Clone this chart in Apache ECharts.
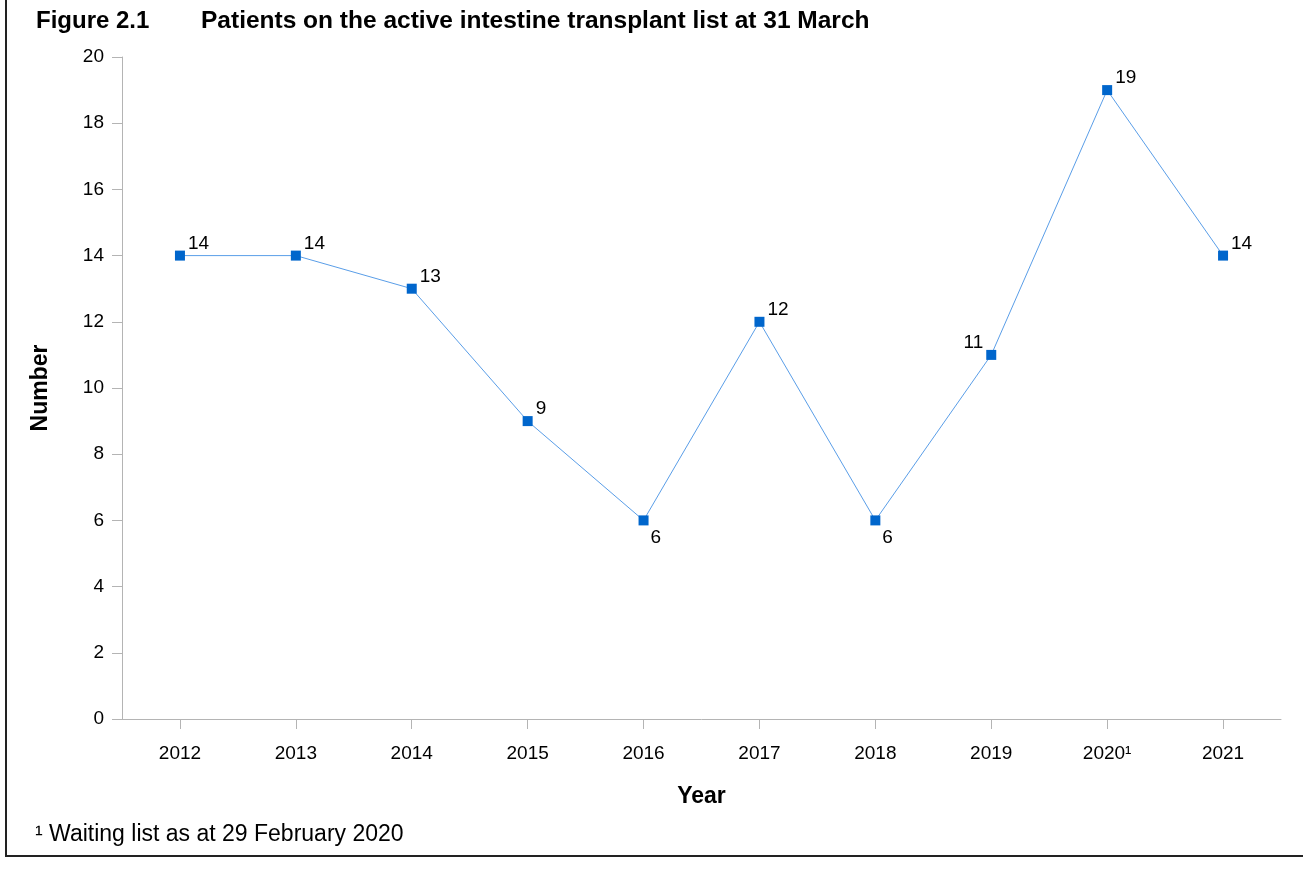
<!DOCTYPE html>
<html>
<head>
<meta charset="utf-8">
<script src="https://cdn.jsdelivr.net/npm/echarts@6/dist/echarts.min.js"></script>
<style>
html,body{margin:0;padding:0;background:#fff;}
#chart{width:1303px;height:874px;}
</style>
</head>
<body>
<div id="chart"></div>
<script>
var categories = ['2012','2013','2014','2015','2016','2017','2018','2019','2020\u00B9','2021'];
var patients = [14, 14, 13, 9, 6, 12, 6, 11, 19, 14];
var yTicks = { min: 0, max: 20, interval: 2 };

var labelRightTop = { position: 'right', offset: [-2, -12] };
var labelBelow = { position: 'right', offset: [-3, 17] };
var labelLeftTop = { position: 'left', offset: [2, -12] };
var labelPlacement = [labelRightTop, labelRightTop, labelRightTop, labelRightTop, labelBelow,
                      labelRightTop, labelBelow, labelLeftTop, labelRightTop, labelRightTop];

var font = 'Liberation Sans, Arial, sans-serif';
var chart = echarts.init(document.getElementById('chart'));
chart.setOption({
  backgroundColor: '#fff',
  animation: false,
  title: [
    { text: 'Figure 2.1', left: 31, top: 4,
      textStyle: { fontFamily: font, fontSize: 24, fontWeight: 'bold', color: '#000' } },
    { text: 'Patients on the active intestine transplant list at 31 March', left: 196, top: 4,
      textStyle: { fontFamily: font, fontSize: 24.5, fontWeight: 'bold', color: '#000' } }
  ],
  graphic: [
    { type: 'line', shape: { x1: 6, y1: 0, x2: 6, y2: 856 }, style: { stroke: '#222', lineWidth: 2 } },
    { type: 'line', shape: { x1: 5, y1: 856, x2: 1303, y2: 856 }, style: { stroke: '#222', lineWidth: 2 } },
    { type: 'text', left: 35, top: 823,
      style: { text: '\u00B9 Waiting list as at 29 February 2020', font: '23px ' + font, fill: '#000' } }
  ],
  grid: { left: 122, right: 22, top: 57, bottom: 155 },
  xAxis: {
    type: 'category',
    data: categories,
    boundaryGap: true,
    name: 'Year',
    nameLocation: 'middle',
    nameGap: 66,
    nameTextStyle: { fontFamily: font, fontSize: 23, fontWeight: 'bold', color: '#000' },
    axisLine: { show: true, lineStyle: { color: '#b4b4b4', width: 1 } },
    axisTick: { show: true, alignWithLabel: true, interval: 0, length: 10, lineStyle: { color: '#b4b4b4', width: 1 } },
    axisLabel: { show: true, interval: 0, margin: 25, fontFamily: font, fontSize: 19, color: '#000' },
    splitLine: { show: false }
  },
  yAxis: {
    type: 'value',
    min: yTicks.min, max: yTicks.max, interval: yTicks.interval,
    name: 'Number',
    nameLocation: 'middle',
    nameGap: 70,
    nameTextStyle: { fontFamily: font, fontSize: 23, fontWeight: 'bold', color: '#000' },
    axisLine: { show: true, lineStyle: { color: '#b4b4b4', width: 1 } },
    axisTick: { show: true, length: 10, lineStyle: { color: '#b4b4b4' } },
    axisLabel: { margin: 18, fontFamily: font, fontSize: 19, color: '#000' },
    splitLine: { show: false }
  },
  series: [{
    type: 'line',
    data: patients.map(function (v, i) { return { value: v, label: labelPlacement[i] }; }),
    symbol: 'rect',
    symbolSize: 10,
    lineStyle: { color: '#5a9ee8', width: 1 },
    itemStyle: { color: '#0066cc' },
    label: { show: true, fontFamily: font, fontSize: 19, color: '#000', distance: 5 }
  }]
});
</script>
</body>
</html>
